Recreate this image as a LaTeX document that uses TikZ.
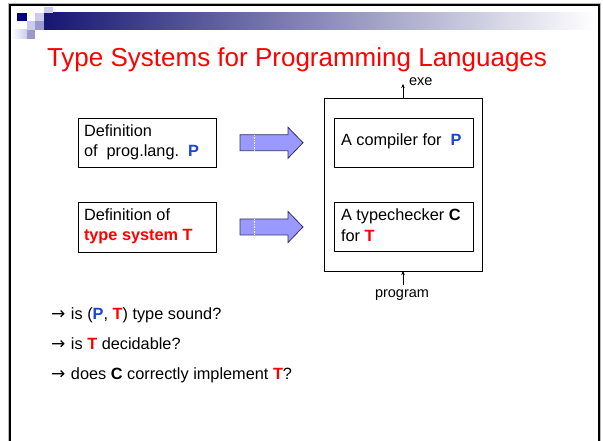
\documentclass[tikz,border=0pt]{standalone}
\usepackage{fontspec}
\setmainfont{Liberation Sans}
\newfontfamily\arrowfont{DejaVu Sans}
\usetikzlibrary{arrows.meta,calc}
\definecolor{tred}{RGB}{255,0,0}
\definecolor{pblue}{RGB}{25,70,215}
\definecolor{barnavy}{RGB}{22,22,115}
\definecolor{sqnavy}{RGB}{0,0,128}
\definecolor{sqlight}{RGB}{204,204,234}
\definecolor{sqmid}{RGB}{153,153,204}
\definecolor{blkfill}{RGB}{153,153,255}
\definecolor{blkline}{RGB}{51,51,102}
\newcommand{\Pb}{\textcolor{pblue}{\textbf{P}}}
\newcommand{\Tr}{\textcolor{tred}{\textbf{T}}}
\newcommand{\qarrow}{\makebox[20pt][l]{\arrowfont\fontsize{17}{17}\selectfont →}}
\begin{document}
\begin{tikzpicture}[x=1pt,y=-1pt,
  every node/.style={inner sep=0pt,outer sep=0pt},
  titletext/.style={text=tred,font=\fontsize{26}{30}\selectfont},
  txt/.style={font=\fontsize{16.3}{19}\selectfont},
  smalltxt/.style={font=\fontsize{14.5}{17}\selectfont},
  box/.style={draw=black,line width=0.9pt,fill=white},
  conn/.style={line width=0.8pt,-{Stealth[length=4pt,width=3.5pt]}},
  blk/.style={draw=blkline,line width=0.8pt,fill=blkfill}]
\useasboundingbox (0,0) rectangle (603,441);
\fill[white] (0,0) rectangle (603,441);
% slide frame
\draw[gray!55,line width=1pt] (8,441) -- (8,4) -- (600.5,4) -- (600.5,441);
\draw[black,line width=2pt] (10,441) -- (10,5.5) -- (598.5,5.5) -- (598.5,441);
% banner
\shade[left color=barnavy,right color=white] (44,13) rectangle (596,30);
\fill[sqnavy] (17,13) rectangle (27,21);
\fill[sqlight] (35,13) rectangle (44,21);
\fill[sqlight] (44,7) rectangle (53,13);
\fill[sqlight] (27,21) rectangle (35,30);
\fill[sqmid] (35,21) rectangle (44,30);
\fill[sqmid] (27,30) rectangle (35,39);
\shade[left color=white,right color=sqlight] (11,30) rectangle (27,39);
% title
\node[titletext,anchor=base west] (title) at (47,67) {Type Systems for Programming Languages};
% left boxes
\node[box,minimum width=138pt,minimum height=49.5pt,anchor=north west] (defP) at (78,118) {};
\node[txt,anchor=base west] (defPa) at ($(defP.north west)+(6,19)$) {Definition};
\node[txt,anchor=base west] (defPb) at ($(defP.north west)+(6,39)$) {of\ \ prog.lang.\ \ \Pb};
\node[box,minimum width=138pt,minimum height=50pt,anchor=north west] (defT) at (78,202) {};
\node[txt,anchor=base west] (defTa) at ($(defT.north west)+(6,18.5)$) {Definition of};
\node[txt,anchor=base west,text=tred] (defTb) at ($(defT.north west)+(6,38.5)$) {\textbf{type system T}};
% system box
\node[box,minimum width=158pt,minimum height=173pt,anchor=north west] (sys) at (324,98) {};
\node[box,minimum width=139pt,minimum height=49.5pt,anchor=north west] (comp) at (334,118) {};
\node[txt,anchor=base west] (compa) at ($(comp.north west)+(7,28)$) {A compiler for\ \ \Pb};
\node[box,minimum width=139pt,minimum height=49pt,anchor=north west] (tc) at (334,202) {};
\node[txt,anchor=base west] (tca) at ($(tc.north west)+(7,19)$) {A typechecker \textbf{C}};
\node[txt,anchor=base west] (tcb) at ($(tc.north west)+(7,39)$) {for \Tr};
% block arrows
\draw[blk] ($(defP.east)+(24,-8)$) -- ++(48,0) -- ++(0,-7.5) -- ++(15,15.5) -- ++(-15,15.5) -- ++(0,-7.5) -- ++(-48,0) -- cycle;
\draw[white!85!blkfill,line width=0.6pt,dash pattern=on 1.5pt off 1pt] ($(defP.east)+(38,-8)$) -- ++(0,16);
\draw[blk] ($(defT.east)+(24,-8)$) -- ++(48,0) -- ++(0,-7.5) -- ++(15,15.5) -- ++(-15,15.5) -- ++(0,-7.5) -- ++(-48,0) -- cycle;
\draw[white!85!blkfill,line width=0.6pt,dash pattern=on 1.5pt off 1pt] ($(defT.east)+(38,-8)$) -- ++(0,16);
% exe and program
\coordinate (exetip) at ($(sys.north)+(0,-14)$);
\draw[conn] (sys.north) -- (exetip);
\node[smalltxt,anchor=base west] (exe) at ($(sys.north)+(6,-12)$) {exe};
\coordinate (progtail) at ($(sys.south)+(0,14)$);
\draw[conn] (progtail) -- (sys.south);
\node[smalltxt,anchor=base] (prog) at ($(sys.south)+(-1,26.5)$) {program};
% questions
\node[txt,anchor=base west] (q1) at (51,319.5) {\qarrow is (\Pb, \Tr) type sound?};
\node[txt,anchor=base west] (q2) at (51,349) {\qarrow is \Tr\ decidable?};
\node[txt,anchor=base west] (q3) at (51,379) {\qarrow does \textbf{C} correctly implement \Tr?};
\end{tikzpicture}
\end{document}
